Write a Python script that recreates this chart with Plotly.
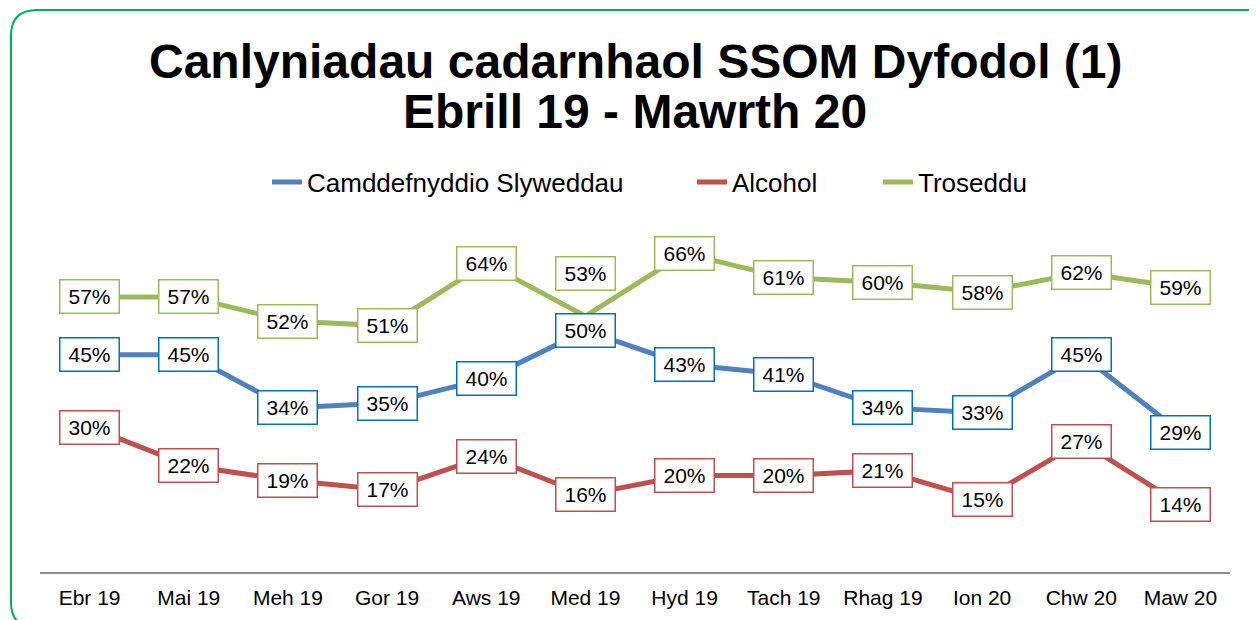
import plotly.graph_objects as go

months = ["Ebr 19", "Mai 19", "Meh 19", "Gor 19", "Aws 19", "Med 19",
          "Hyd 19", "Tach 19", "Rhag 19", "Ion 20", "Chw 20", "Maw 20"]
camddefnyddio = [45, 45, 34, 35, 40, 50, 43, 41, 34, 33, 45, 29]
alcohol = [30, 22, 19, 17, 24, 16, 20, 20, 21, 15, 27, 14]
troseddu = [57, 57, 52, 51, 64, 53, 66, 61, 60, 58, 62, 59]

# name, values, line colour, label box colour, legend id, legend text start (px)
series = [
    ("Camddefnyddio Slyweddau", camddefnyddio, "#4F81BD", "#0070C0", "legend", 307),
    ("Alcohol", alcohol, "#C0504D", "#C0504D", "legend2", 732),
    ("Troseddu", troseddu, "#9BBB59", "#9BBB59", "legend3", 918),
]

FONT = "Liberation Sans, Arial, sans-serif"

# page offset of the figure (body margin) and plot area in pixels
OFF = 8
W, H = 1257, 620
L, R, T, B = 32, 35, 202, 56
pw, ph = W - L - R, H - T - B


def px(x):
    # page pixel -> paper x
    return (x - OFF - L) / pw


def py(y):
    # page pixel -> paper y
    return (H - B - (y - OFF)) / ph


fig = go.Figure()
annotations = []
legends = {}
for name, vals, line_col, box_col, leg, text_x in series:
    fig.add_trace(go.Scatter(
        x=months, y=vals, name=name, mode="lines", legend=leg,
        line=dict(color=line_col, width=5),
    ))
    legends[leg] = dict(
        orientation="h", x=px(text_x - 40), xanchor="left",
        y=py(182), yanchor="middle",
        font=dict(family=FONT, size=26, color="black"),
        bgcolor="rgba(0,0,0,0)",
    )
    for m, v in zip(months, vals):
        shift = 0
        if name == "Troseddu" and m == "Med 19":
            shift = 43  # label lifted above the crossing
        annotations.append(dict(
            x=m, y=v, xref="x", yref="y", text=f"{v}%", showarrow=False,
            font=dict(family=FONT, size=21, color="black"),
            bgcolor="white", bordercolor=box_col, borderwidth=1.5,
            borderpad=2, width=54, height=28, yshift=shift,
        ))

# two-line title, tight spacing
for txt, ypix in [("Canlyniadau cadarnhaol SSOM Dyfodol (1)", 62),
                  ("Ebrill 19 - Mawrth 20", 112)]:
    annotations.append(dict(
        x=px(635), y=py(ypix), xref="paper", yref="paper",
        xanchor="center", yanchor="middle", showarrow=False,
        text=f"<b>{txt}</b>", font=dict(family=FONT, size=48, color="black"),
    ))

# rounded green frame around the chart
x0, x1 = px(11), px(1275)
y0, y1 = py(628), py(10)
rx, ry = 26 / pw, 26 / ph
path = (f"M {x0 + rx},{y1} L {x1 - rx},{y1} Q {x1},{y1} {x1},{y1 - ry} "
        f"L {x1},{y0 + ry} Q {x1},{y0} {x1 - rx},{y0} L {x0 + rx},{y0} "
        f"Q {x0},{y0} {x0},{y0 + ry} L {x0},{y1 - ry} Q {x0},{y1} {x0 + rx},{y1} Z")

fig.update_layout(
    width=W, height=H,
    margin=dict(l=L, r=R, t=T, b=B),
    paper_bgcolor="white", plot_bgcolor="white",
    font=dict(family=FONT, color="black"),
    xaxis=dict(
        type="category", range=[-0.5, 11.5], showgrid=False,
        showline=True, linecolor="#8C8C8C", linewidth=2,
        ticks="", ticklabelstandoff=6,
        tickfont=dict(family=FONT, size=21, color="black"),
        fixedrange=True,
    ),
    yaxis=dict(range=[0, 75], visible=False, showgrid=False, fixedrange=True),
    annotations=annotations,
    shapes=[dict(type="path", xref="paper", yref="paper", path=path,
                 line=dict(color="#00B050", width=2), layer="below")],
    showlegend=True,
    **legends,
)

fig.write_html("out.html")
